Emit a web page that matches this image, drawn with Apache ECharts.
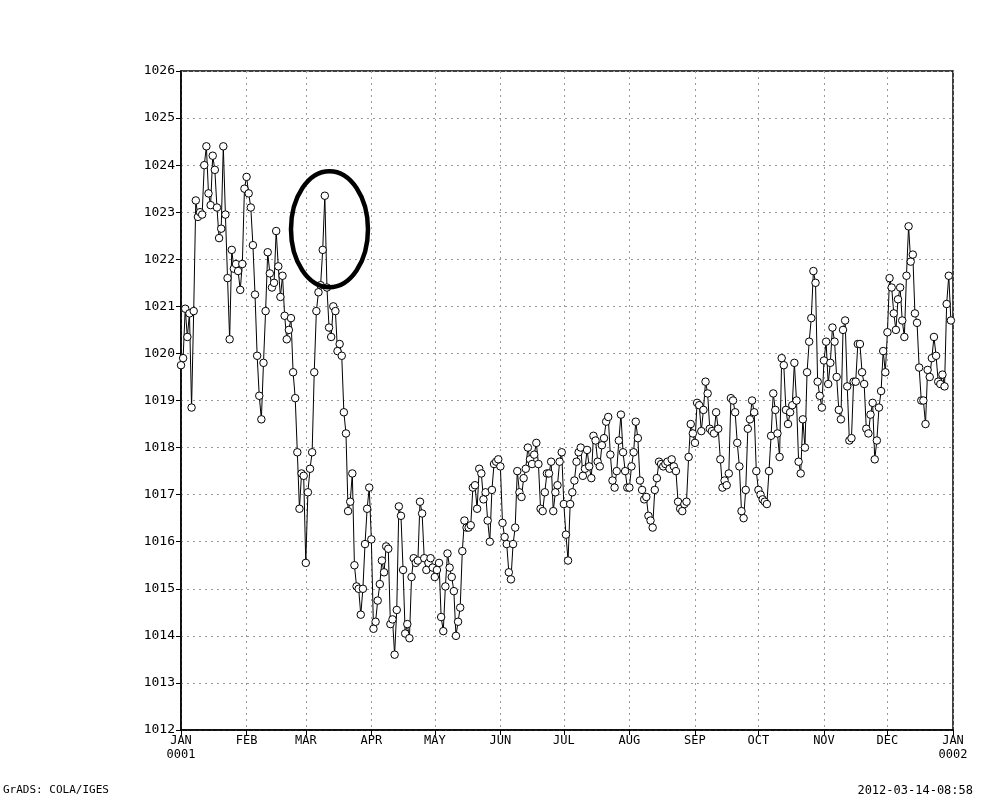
<!DOCTYPE html>
<html>
<head>
<meta charset="utf-8">
<script src="https://cdn.jsdelivr.net/npm/echarts@6/dist/echarts.min.js"></script>
<style>
  html, body { margin: 0; padding: 0; background: #fff; }
  #chart { width: 1000px; height: 800px; }
</style>
</head>
<body>
<div id="chart"></div>
<script>
// Daily values (hPa), one array per month, year 0001 (365 days)
const jan = [1019.75, 1019.9, 1020.95, 1020.35, 1020.85, 1018.85, 1020.9, 1023.25, 1022.9, 1023.0, 1022.95, 1024.0, 1024.4, 1023.4, 1023.15, 1024.2, 1023.9, 1023.1, 1022.45, 1022.65, 1024.4, 1022.95, 1021.6, 1020.3, 1022.2, 1021.8, 1021.9, 1021.75, 1021.35, 1021.9, 1023.5];
const feb = [1023.75, 1023.4, 1023.1, 1022.3, 1021.25, 1019.95, 1019.1, 1018.6, 1019.8, 1020.9, 1022.15, 1021.7, 1021.4, 1021.5, 1022.6, 1021.85, 1021.2, 1021.65, 1020.8, 1020.3, 1020.5, 1020.75, 1019.6, 1019.05, 1017.9, 1016.7, 1017.45, 1017.4];
const mar = [1015.55, 1017.05, 1017.55, 1017.9, 1019.6, 1020.9, 1021.3, 1021.45, 1022.2, 1023.35, 1021.4, 1020.55, 1020.35, 1021.0, 1020.9, 1020.05, 1020.2, 1019.95, 1018.75, 1018.3, 1016.65, 1016.85, 1017.45, 1015.5, 1015.05, 1015.0, 1014.45, 1015.0, 1015.95, 1016.7, 1017.15];
const apr = [1016.05, 1014.15, 1014.3, 1014.75, 1015.1, 1015.6, 1015.35, 1015.9, 1015.85, 1014.25, 1014.35, 1013.6, 1014.55, 1016.75, 1016.55, 1015.4, 1014.05, 1014.25, 1013.95, 1015.25, 1015.65, 1015.55, 1015.6, 1016.85, 1016.6, 1015.65, 1015.4, 1015.55, 1015.65, 1015.45];
const may = [1015.25, 1015.4, 1015.55, 1014.4, 1014.1, 1015.05, 1015.75, 1015.45, 1015.25, 1014.95, 1014.0, 1014.3, 1014.6, 1015.8, 1016.45, 1016.3, 1016.3, 1016.35, 1017.15, 1017.2, 1016.7, 1017.55, 1017.45, 1016.9, 1017.05, 1016.45, 1016.0, 1017.1, 1017.65, 1017.7, 1017.75];
const jun = [1017.6, 1016.4, 1016.1, 1015.95, 1015.35, 1015.2, 1015.95, 1016.3, 1017.5, 1017.05, 1016.95, 1017.35, 1017.55, 1018.0, 1017.75, 1017.65, 1017.85, 1018.1, 1017.65, 1016.7, 1016.65, 1017.05, 1017.45, 1017.45, 1017.7, 1016.65, 1017.05, 1017.2, 1017.7, 1017.9];
const jul = [1016.8, 1016.15, 1015.6, 1016.8, 1017.05, 1017.3, 1017.7, 1017.9, 1018.0, 1017.4, 1017.55, 1017.95, 1017.6, 1017.35, 1018.25, 1018.15, 1017.7, 1017.6, 1018.05, 1018.2, 1018.55, 1018.65, 1017.85, 1017.3, 1017.15, 1017.5, 1018.15, 1018.7, 1017.9, 1017.5, 1017.15];
const aug = [1017.15, 1017.6, 1017.9, 1018.55, 1018.2, 1017.3, 1017.1, 1016.9, 1016.95, 1016.55, 1016.45, 1016.3, 1017.1, 1017.35, 1017.7, 1017.65, 1017.6, 1017.65, 1017.7, 1017.55, 1017.75, 1017.6, 1017.5, 1016.85, 1016.7, 1016.65, 1016.8, 1016.85, 1017.8, 1018.5, 1018.3];
const sep = [1018.1, 1018.95, 1018.9, 1018.35, 1018.8, 1019.4, 1019.15, 1018.4, 1018.35, 1018.3, 1018.75, 1018.4, 1017.75, 1017.15, 1017.3, 1017.2, 1017.45, 1019.05, 1019.0, 1018.75, 1018.1, 1017.6, 1016.65, 1016.5, 1017.1, 1018.4, 1018.6, 1019.0, 1018.75, 1017.5];
const oct = [1017.1, 1017.0, 1016.9, 1016.85, 1016.8, 1017.5, 1018.25, 1019.15, 1018.8, 1018.3, 1017.8, 1019.9, 1019.75, 1018.8, 1018.5, 1018.75, 1018.9, 1019.8, 1019.0, 1017.7, 1017.45, 1018.6, 1018.0, 1019.6, 1020.25, 1020.75, 1021.75, 1021.5, 1019.4, 1019.1, 1018.85];
const nov = [1019.85, 1020.25, 1019.35, 1019.8, 1020.55, 1020.25, 1019.5, 1018.8, 1018.6, 1020.5, 1020.7, 1019.3, 1018.15, 1018.2, 1019.4, 1019.4, 1020.2, 1020.2, 1019.6, 1019.35, 1018.4, 1018.3, 1018.7, 1018.95, 1017.75, 1018.15, 1018.85, 1019.2, 1020.05, 1019.6];
const dec = [1020.45, 1021.6, 1021.4, 1020.85, 1020.5, 1021.15, 1021.4, 1020.7, 1020.35, 1021.65, 1022.7, 1021.95, 1022.1, 1020.85, 1020.65, 1019.7, 1019.0, 1019.0, 1018.5, 1019.65, 1019.5, 1019.9, 1020.35, 1019.95, 1019.4, 1019.35, 1019.55, 1019.3, 1021.05, 1021.65, 1020.7];

// Axis tick positions (day of year) and labels
const monthStarts = [0, 31, 59, 90, 120, 151, 181, 212, 243, 273, 304, 334, 365];
const monthLabels = ['JAN\n0001', 'FEB', 'MAR', 'APR', 'MAY', 'JUN', 'JUL', 'AUG', 'SEP', 'OCT', 'NOV', 'DEC', 'JAN\n0002'];
const yTicks = [1012, 1013, 1014, 1015, 1016, 1017, 1018, 1019, 1020, 1021, 1022, 1023, 1024, 1025, 1026];

// Annotation ellipse (data units for centre, pixels for radii)
const ellipseCentre = [70.2, 1022.64];
const ellipseRadii = [38.5, 58];

const values = [].concat(jan, feb, mar, apr, may, jun, jul, aug, sep, oct, nov, dec);
const seriesData = values.map((v, i) => [i, v]);

const FONT = '"DejaVu Sans Mono", "Liberation Mono", monospace';
const chart = echarts.init(document.getElementById('chart'), null, { renderer: 'canvas' });

const footer = [
  { type: 'text', left: 3, top: 785, style: { text: 'GrADS: COLA/IGES', font: '11px ' + FONT, fill: '#000' } },
  { type: 'text', right: 27, top: 785, style: { text: '2012-03-14-08:58', font: '12px ' + FONT, fill: '#000' } }
];

const option = {
  animation: false,
  backgroundColor: '#ffffff',
  grid: {
    left: 181, top: 71, width: 772, height: 659,
    show: true, borderColor: '#000', borderWidth: 1.5, backgroundColor: 'transparent'
  },
  xAxis: {
    type: 'value',
    min: 0, max: 365,
    axisLine: { show: true, lineStyle: { color: '#000', width: 1.5 } },
    axisTick: { show: true, customValues: monthStarts, length: 5, lineStyle: { color: '#000' } },
    axisLabel: {
      customValues: monthStarts,
      formatter: function (v) { const k = monthStarts.indexOf(v); return k >= 0 ? monthLabels[k] : ''; },
      color: '#000', fontFamily: FONT, fontSize: 12, lineHeight: 14, margin: 4
    },
    splitLine: { show: true, lineStyle: { color: '#9a9a9a', type: [2, 4], width: 1 } }
  },
  yAxis: {
    type: 'value',
    min: yTicks[0], max: yTicks[yTicks.length - 1], interval: 1,
    axisLine: { show: true, lineStyle: { color: '#000', width: 1.5 } },
    axisTick: { show: true, length: 5, lineStyle: { color: '#000' } },
    axisLabel: {
      color: '#000', fontFamily: FONT, fontSize: 13, margin: 6,
      formatter: function (v) { return String(Math.round(v)); }
    },
    splitLine: { show: true, lineStyle: { color: '#9a9a9a', type: [2, 4], width: 1 } }
  },
  series: [{
    type: 'line',
    data: seriesData,
    symbol: 'circle',
    symbolSize: 7.5,
    showAllSymbol: true,
    lineStyle: { color: '#000', width: 1 },
    itemStyle: { color: '#fff', borderColor: '#000', borderWidth: 1 },
    emphasis: { disabled: true },
    z: 3
  }],
  graphic: footer
};
chart.setOption(option);

const c = chart.convertToPixel({ gridIndex: 0 }, ellipseCentre);
chart.setOption({
  graphic: footer.concat([
    { type: 'ellipse', shape: { cx: c[0], cy: c[1], rx: ellipseRadii[0], ry: ellipseRadii[1] },
      style: { fill: null, stroke: '#000', lineWidth: 4.5 }, z: 10 }
  ])
});
</script>
</body>
</html>
